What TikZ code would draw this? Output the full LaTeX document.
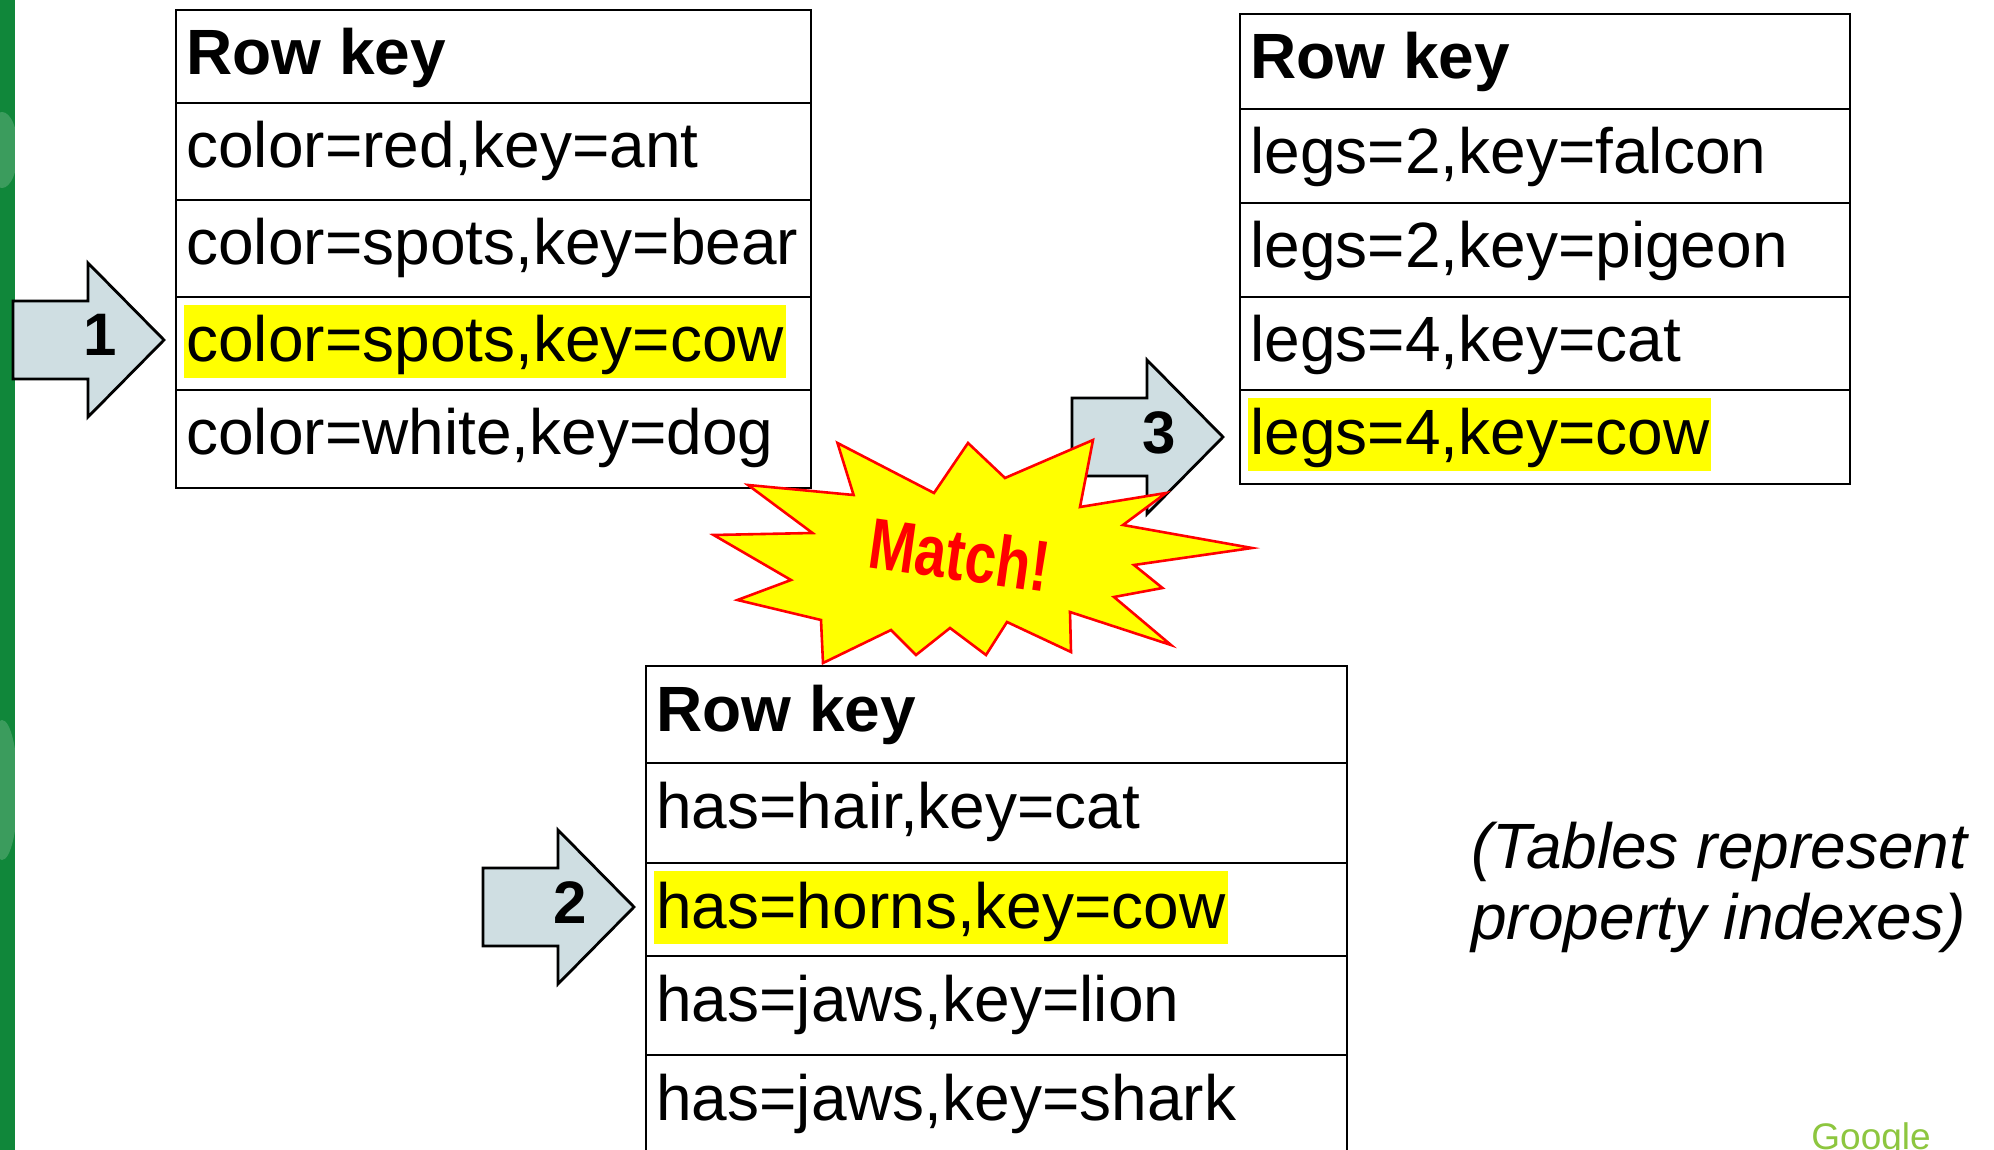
\documentclass[tikz,border=0pt]{standalone}
\usepackage{fontspec}
\setmainfont{Liberation Sans}
\newfontfamily\matchfont[FakeStretch=0.78]{Liberation Sans}
\usetikzlibrary{calc}
\definecolor{barGreen}{RGB}{16,135,58}
\definecolor{arrowFill}{RGB}{207,222,226}
\definecolor{hiYellow}{RGB}{255,255,0}
\definecolor{googleGreen}{RGB}{141,198,63}
\tikzset{
  cell/.style={draw,line width=1.2pt,anchor=north west,inner sep=0pt},
  rowtxt/.style={anchor=base west,inner xsep=1pt,inner ysep=0pt,font=\fontsize{32pt}{36pt}\selectfont},
  hd/.style={font=\fontsize{32pt}{36pt}\selectfont\bfseries},
  plain/.style={},
  hi/.style={fill=hiYellow,text height=28.5pt,text depth=8pt},
  idxarrow/.style={fill=arrowFill,draw=black,line width=1.4pt,line join=miter},
  idxnum/.style={anchor=base,inner sep=0pt,font=\fontsize{30pt}{30pt}\selectfont\bfseries},
  burst/.style={fill=hiYellow,draw=red,line width=1.3pt,line join=miter},
}
\begin{document}
\begin{tikzpicture}[x=0.5pt,y=-0.5pt]
    \useasboundingbox (0,0) rectangle (1994,1150);
    \clip (0,0) rectangle (1994,1150);
    \fill[white] (0,0) rectangle (1994,1150);
    \fill[barGreen] (0,0) rectangle (15,1150);
    \begin{scope}
      \clip (0,0) rectangle (15,1150);
      \fill[white,opacity=0.18] (2,150) ellipse (16 and 38);
      \fill[white,opacity=0.18] (2,790) ellipse (16 and 70);
    \end{scope}
    \foreach \i/\top/\h/\st/\txt in {0/9/93/hd/{Row key},1/102/97/plain/{color=red,key=ant},
        2/199/97/plain/{color=spots,key=bear},3/296/93/hi/{color=spots,key=cow},4/389/98/plain/{color=white,key=dog}}{
      \node[cell,minimum width=317.5pt,minimum height=\h*0.5pt] (t1c\i) at (175,\top) {};
      \node[rowtxt,\st] (t1x\i) at ($(t1c\i.north west)+(9,66)$) {\txt};
    }
    \foreach \i/\top/\h/\st/\txt in {0/13/95/hd/{Row key},1/108/94/plain/{legs=2,key=falcon},
        2/202/94/plain/{legs=2,key=pigeon},3/296/93/plain/{legs=4,key=cat},4/389/94/hi/{legs=4,key=cow}}{
      \node[cell,minimum width=305pt,minimum height=\h*0.5pt] (t2c\i) at (1239,\top) {};
      \node[rowtxt,\st] (t2x\i) at ($(t2c\i.north west)+(9,66)$) {\txt};
    }
    \foreach \i/\top/\h/\st/\txt in {0/665/97/hd/{Row key},1/762/100/plain/{has=hair,key=cat},
        2/862/93/hi/{has=horns,key=cow},3/955/99/plain/{has=jaws,key=lion},4/1054/104/plain/{has=jaws,key=shark}}{
      \node[cell,minimum width=350.5pt,minimum height=\h*0.5pt] (t3c\i) at (645,\top) {};
      \node[rowtxt,\st] (t3x\i) at ($(t3c\i.north west)+(9,66)$) {\txt};
    }
    \foreach \n/\L/\C in {1/13/340,2/483/907,3/1072/437}{
      \draw[idxarrow] (\L,\C-39) -- (\L+75,\C-39) -- (\L+75,\C-77) -- (\L+151,\C)
        -- (\L+75,\C+77) -- (\L+75,\C+39) -- (\L,\C+39) -- cycle;
      \node[idxnum] (num\n) at (\L+87,\C+16) {\n};
    }
    \draw[burst] (837.5,443) -- (934,493) -- (968,443) -- (1005,478) -- (1093,440) -- (1080,507)
      -- (1166,493) -- (1123,525) -- (1252,548) -- (1134,565) -- (1162.5,588) -- (1114,597)
      -- (1171,645) -- (1070,612) -- (1071,652) -- (1007,622) -- (986,655) -- (950,628)
      -- (916,655) -- (891,630) -- (823,663) -- (821,620) -- (737.5,600) -- (791,580)
      -- (713.6,535) -- (812.5,533) -- (748,485) -- (853.6,495) -- cycle;
    \node[rotate=-8,anchor=base,inner sep=0pt,text=red,font=\matchfont\bfseries\fontsize{36pt}{36pt}\selectfont] (match) at (956,580) {Match!};
    \node[anchor=base west,inner sep=0pt,font=\fontsize{32pt}{32pt}\selectfont\itshape] (note1) at (1471,868) {(Tables represent};
    \node[anchor=base west,inner sep=0pt,font=\fontsize{32pt}{32pt}\selectfont\itshape] (note2) at (1471,939) {property indexes)};
    \node[anchor=base west,inner sep=0pt,text=googleGreen,font=\fontsize{18.5pt}{18.5pt}\selectfont] (google) at (1811,1149) {Google};
\end{tikzpicture}
\end{document}
